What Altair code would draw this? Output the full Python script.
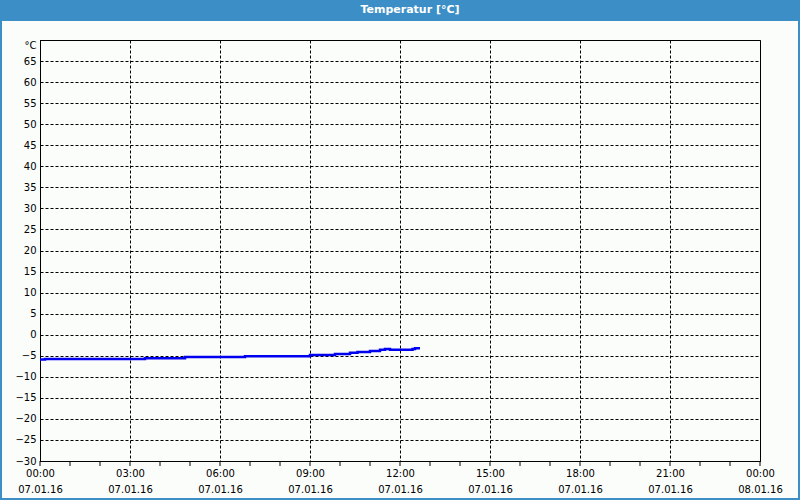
import altair as alt
import pandas as pd

# ---- data ----
times = ["00:00", "00:10", "03:30", "04:50", "06:50", "09:00", "09:50", "10:20",
         "10:35", "11:00", "11:20", "11:30", "11:40", "12:25", "12:30", "12:40"]
temps = [-5.9, -5.8, -5.6, -5.3, -5.1, -4.8, -4.6, -4.3,
         -4.1, -3.9, -3.6, -3.4, -3.6, -3.4, -3.2, -3.2]
title_text = "Temperatur [°C]"
y_ticks = list(range(-30, 75, 5))
x_major_hours = list(range(0, 25, 3))
x_minor_hours = list(range(0, 25, 1))

BLUE = "#3C8FC6"
BODY = "#FBFDFB"
FONT = "DejaVu Sans"

df = pd.DataFrame({
    "time": ["2016-01-07T" + t + ":00" for t in times],
    "temp": temps,
})

def dt(h):
    if h >= 24:
        return alt.DateTime(year=2016, month=1, date=8, hours=h - 24)
    return alt.DateTime(year=2016, month=1, date=7, hours=h)

minor_df = pd.DataFrame({
    "time": [("2016-01-07T%02d:00:00" % h) if h < 24 else "2016-01-08T00:00:00" for h in x_minor_hours]
})

W, H = 720, 421
xscale = alt.Scale(domain=[dt(0), dt(24)], nice=False)
yscale = alt.Scale(domain=[-30, 70], nice=False, zero=False)

line = alt.Chart(df).mark_line(color="#0000F0", strokeWidth=2.5, interpolate="step-after").encode(
    x=alt.X("time:T", scale=xscale, title=None,
            axis=alt.Axis(values=[dt(h) for h in x_major_hours],
                          labelExpr="[timeFormat(datum.value, '%H:%M'), timeFormat(datum.value, '%d.%m.%y')]",
                          labelLineHeight=16, labelPadding=7, ticks=False,
                          grid=True, gridDash=[3, 2], gridColor="black", gridOpacity=1,
                          domainColor="black", labelColor="black", labelFont=FONT, labelFontSize=10,
                          labelFlush=False, labelOverlap=False)),
    y=alt.Y("temp:Q", scale=yscale, title=None,
            axis=alt.Axis(values=y_ticks, ticks=False, labelPadding=4,
                          labelExpr="datum.value == 70 ? '°C' : datum.label",
                          labelBaseline={"condition": {"test": "datum.value == 70", "value": "top"},
                                         "value": "middle"},
                          grid=True, gridDash=[3, 2], gridColor="black", gridOpacity=1,
                          domainColor="black", labelColor="black", labelFont=FONT, labelFontSize=10,
                          labelOverlap=False, labelFlush=False)),
)

minor = alt.Chart(minor_df).mark_rule(color="black", strokeWidth=1).encode(
    x=alt.X("time:T", scale=xscale),
    y=alt.value(H),
    y2=alt.value(H + 5),
)

one = pd.DataFrame({"a": [0]})
bar = alt.Chart(one).mark_rect(color=BLUE).encode(
    x=alt.value(-40), x2=alt.value(760), y=alt.value(-40), y2=alt.value(-19))
left = alt.Chart(one).mark_rect(color=BLUE).encode(
    x=alt.value(-40), x2=alt.value(-38), y=alt.value(-40), y2=alt.value(460))
right = alt.Chart(one).mark_rect(color=BLUE).encode(
    x=alt.value(758), x2=alt.value(760), y=alt.value(-40), y2=alt.value(460))
bottom = alt.Chart(one).mark_rect(color=BLUE).encode(
    x=alt.value(-40), x2=alt.value(760), y=alt.value(458), y2=alt.value(460))
title = alt.Chart(pd.DataFrame({"t": [title_text]})).mark_text(
    color="white", font=FONT, fontSize=11, fontWeight="bold", align="center", baseline="middle"
).encode(x=alt.value(370), y=alt.value(-30), text="t:N")

chart = alt.layer(bar, left, right, bottom, title, minor, line).properties(
    width=W, height=H,
    autosize=alt.AutoSizeParams(type="none"),
    padding={"left": 40, "top": 40, "right": 40, "bottom": 39},
    background=BODY,
).configure_view(stroke="black", strokeWidth=1)

chart.save("out.html", embed_options={"renderer": "svg", "actions": False})
